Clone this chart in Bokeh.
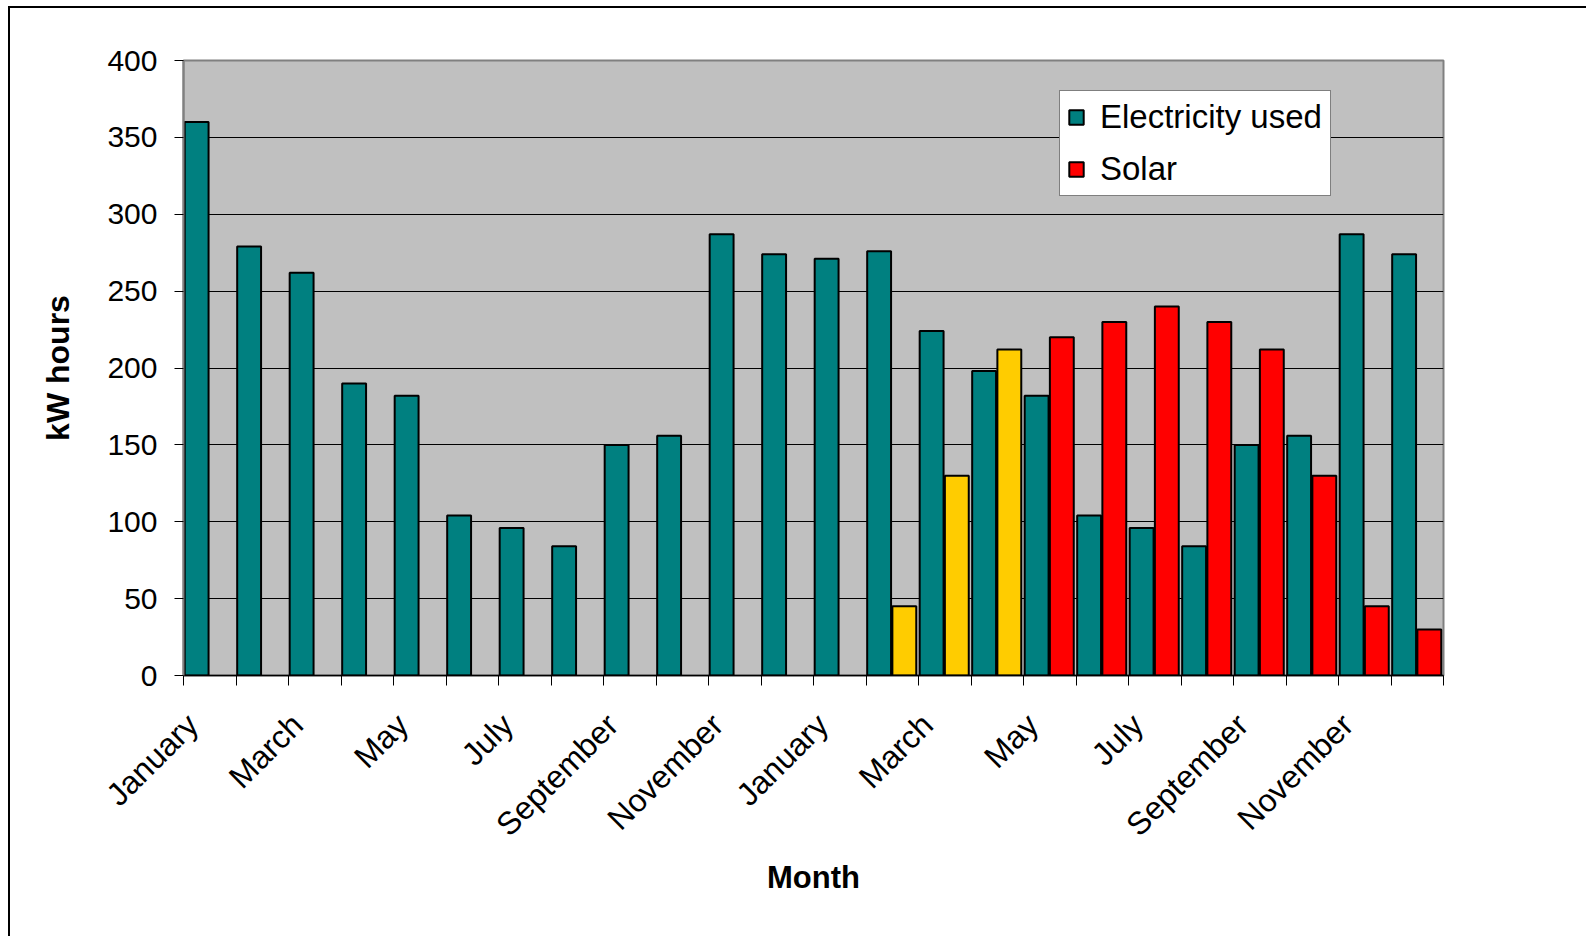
import math
import numpy as np
from bokeh.plotting import figure
from bokeh.models import ColumnDataSource, FixedTicker, Legend, LegendItem, Range1d
from bokeh.transform import dodge
from bokeh.embed import file_html
from bokeh.resources import INLINE

# ---- data ----
months = ["January", "February", "March", "April", "May", "June",
          "July", "August", "September", "October", "November", "December"]
years = ["Year 1", "Year 2"]
electricity_used = [360, 279, 262, 190, 182, 104, 96, 84, 150, 156, 287, 274,
                    271, 276, 224, 198, 182, 104, 96, 84, 150, 156, 287, 274]
solar = [None] * 13 + [45, 130, 212, 220, 230, 240, 230, 212, 130, 45, 30]
# early solar months are shown in yellow in the original chart
solar_early = [False] * 13 + [True, True, True] + [False] * 8
y_ticks = [0, 50, 100, 150, 200, 250, 300, 350, 400]

n = len(electricity_used)
pos = list(range(n))
solar_vals = [np.nan if v is None else v for v in solar]
solar_colors = ["#FFCC00" if e else "#FF0000" for e in solar_early]

src = ColumnDataSource(dict(pos=pos, used=electricity_used, solar=solar_vals,
                            scol=solar_colors))

FONT = "Liberation Sans"

p = figure(width=1586, height=936, x_range=Range1d(0, n), y_range=Range1d(0, 400),
           output_backend="svg", toolbar_location=None,
           min_border_left=183, min_border_right=143, min_border_top=60,
           min_border_bottom=261, background_fill_color="#C0C0C0",
           border_fill_color="white", border_fill_alpha=0)
p.styles = {"background": "linear-gradient(#000,#000) 8px 6px / 2px 100% no-repeat, "
                          "linear-gradient(#000,#000) 8px 6px / 100% 2px no-repeat, #ffffff"}
p.outline_line_color = "#808080"
p.outline_line_width = 2

r_used = p.vbar(x=dodge("pos", 0.25), top="used", width=0.455, source=src,
                fill_color="#008080", line_color="black", line_width=2)
r_solar = p.vbar(x=dodge("pos", 0.73), top="solar", width=0.455, source=src,
                 fill_color="scol", line_color="black", line_width=2)

# x axis: labels every other month, tick marks at category boundaries
LABEL_SHIFT = 0.17
label_pos = [i + LABEL_SHIFT for i in range(0, n, 2)]
overrides = {i + LABEL_SHIFT: months[i % 12] for i in range(0, n, 2)}
xa = p.xaxis[0]
xa.ticker = FixedTicker(ticks=label_pos, minor_ticks=list(range(n + 1)))
xa.major_label_overrides = overrides
xa.major_label_orientation = math.pi / 4
xa.major_tick_out = 0
xa.major_tick_in = 0
xa.minor_tick_out = 10
xa.minor_tick_in = 0
xa.minor_tick_line_color = "black"
xa.axis_line_color = "black"
xa.axis_line_width = 1.5
xa.major_label_standoff = 34
xa.major_label_text_font = FONT
xa.major_label_text_font_size = "32px"
xa.major_label_text_color = "black"
xa.axis_label = "Month"
xa.axis_label_text_font = FONT
xa.axis_label_text_font_size = "31px"
xa.axis_label_text_font_style = "bold"
xa.axis_label_text_color = "black"
xa.axis_label_standoff = 1

ya = p.yaxis[0]
ya.ticker = FixedTicker(ticks=y_ticks)
ya.major_tick_out = 9
ya.major_tick_in = 0
ya.minor_tick_out = 0
ya.minor_tick_in = 0
ya.major_tick_line_color = "black"
ya.axis_line_color = "#808080"
ya.axis_line_width = 2
ya.major_label_standoff = 17
ya.major_label_text_font = FONT
ya.major_label_text_font_size = "30px"
ya.major_label_text_color = "black"
ya.axis_label = "kW hours"
ya.axis_label_text_font = FONT
ya.axis_label_text_font_size = "32px"
ya.axis_label_text_font_style = "bold"
ya.axis_label_text_color = "black"
ya.axis_label_standoff = 28

p.xgrid.visible = False
p.ygrid.ticker = FixedTicker(ticks=y_ticks[1:-1])
p.ygrid.grid_line_color = "black"
p.ygrid.grid_line_width = 1

legend = Legend(items=[LegendItem(label="Electricity used", renderers=[r_used], index=n - 1),
                       LegendItem(label="Solar", renderers=[r_solar], index=n - 1)],
                location=(876, 479))
legend.glyph_width = 18
legend.glyph_height = 18
legend.label_text_font = FONT
legend.label_text_font_size = "33px"
legend.label_text_color = "black"
legend.label_standoff = 15
legend.label_height = 30
legend.label_width = 223
legend.spacing = 14
legend.padding = 7
legend.margin = 0
legend.border_line_color = "black"
legend.border_line_width = 1
legend.background_fill_color = "white"
legend.background_fill_alpha = 1
p.add_layout(legend)

open("out.html", "w").write(file_html(p, INLINE))
